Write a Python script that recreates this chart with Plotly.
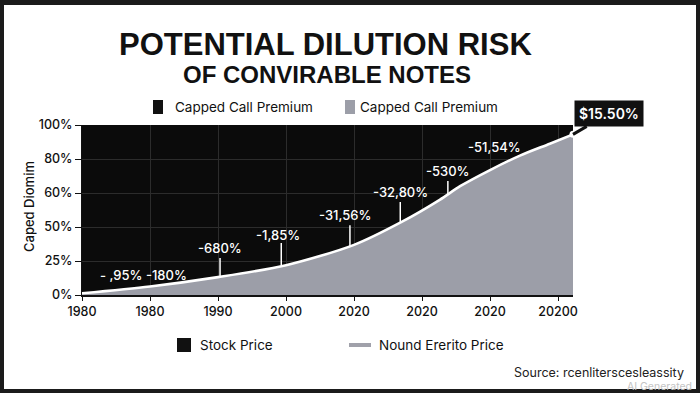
import plotly.graph_objects as go

# ---- data ----
x_pos = [0, 1, 2, 3, 4, 4.7, 5.26, 5.56, 6, 6.44, 6.88, 7.22]
dilution = [1, 5, 10.5, 17.5, 29.5, 43, 56, 64, 73.5, 82, 89, 94.5]

x_tickvals = [0, 1, 2, 3, 4, 5, 6, 7]
x_ticktext = ["1980", "1980", "1990", "2000", "2020", "2020", "2020", "20200"]
y_tickvals = [0, 20, 40, 60, 80, 100]
y_ticktext = ["0%", "25%", "50%", "60%", "80%", "100%"]

label_text = ["- ,95% -180%", "-680%", "-1,85%", "-31,56%", "-32,80%", "-530%", "-51,54%"]
label_x = [0.9, 2.03, 2.88, 3.87, 4.68, 5.38, 6.06]
label_y = [11.8, 27.6, 35.3, 47, 60.6, 73, 87]
stem_x = [None, 2.03, 2.93, 3.94, 4.68, 5.38, None]
stem_top = [None, 21.8, 30.6, 41, 54.7, 67, None]
stem_bottom = [None, 10.8, 17.5, 28.8, 43, 59, None]

end_label = "$15.50%"

# ---- layout geometry ----
W, H = 700, 393
L, R, T, B = 82, 127, 125, 98
PW, PH = W - L - R, H - T - B


def px(xp):
    return (xp - L) / PW


def py(yp):
    return (H - B - yp) / PH


fig = go.Figure()
fig.add_trace(go.Scatter(
    x=x_pos, y=dilution, mode="lines",
    line=dict(color="white", width=2.6, shape="spline", smoothing=0.8),
    fill="tozeroy", fillcolor="#9c9ea8", showlegend=False, hoverinfo="skip",
))
fig.add_trace(go.Scatter(
    x=[x_pos[-1]], y=[dilution[-1]], mode="markers",
    marker=dict(color="white", size=7), showlegend=False, hoverinfo="skip",
    cliponaxis=False,
))

shapes = []
annotations = []
lab_font = dict(family="Inter", size=13, color="white", weight=500)
for t, lx, ly, sx, st, sb in zip(label_text, label_x, label_y, stem_x, stem_top, stem_bottom):
    annotations.append(dict(x=lx, y=ly, xref="x", yref="y", text=t, showarrow=False,
                            xanchor="center", yanchor="middle", font=lab_font))
    if sx is not None:
        shapes.append(dict(type="line", xref="x", yref="y", x0=sx, x1=sx, y0=sb, y1=st,
                           line=dict(color="white", width=1.5)))

# end label box
annotations.append(dict(x=x_pos[-1], y=dilution[-1], xref="x", yref="y", text=end_label,
                        showarrow=True, arrowhead=0, arrowwidth=3, arrowcolor="#111",
                        ax=36, ay=-21, bgcolor="#111", borderpad=4,
                        font=dict(family="Inter", size=14, color="white", weight=600)))


def paper_text(x, y, text, font, xanchor="center", angle=0):
    annotations.append(dict(x=px(x), y=py(y), xref="paper", yref="paper", text=text,
                            showarrow=False, xanchor=xanchor, yanchor="middle",
                            textangle=angle, font=font))


# titles
paper_text(325, 45, "POTENTIAL DILUTION RISK",
           dict(family="Liberation Sans", size=31, color="#111", weight=700))
paper_text(327, 75, "OF CONVIRABLE NOTES",
           dict(family="Liberation Sans", size=24, color="#111", weight=700))

# top legend
leg_font = dict(family="Inter", size=13.5, color="#111")
shapes.append(dict(type="rect", xref="paper", yref="paper", x0=px(153), x1=px(163), y0=py(100), y1=py(114),
                   fillcolor="#111", line=dict(width=0)))
paper_text(173, 107, "Capped Call Premium", leg_font, "left")
shapes.append(dict(type="rect", xref="paper", yref="paper", x0=px(345), x1=px(355), y0=py(100), y1=py(114),
                   fillcolor="#9c9ea8", line=dict(width=0)))
paper_text(358, 107, "Capped Call Premium", leg_font, "left")

# bottom legend
shapes.append(dict(type="rect", xref="paper", yref="paper", x0=px(177), x1=px(191), y0=py(338), y1=py(352),
                   fillcolor="#111", line=dict(width=0)))
paper_text(198, 345, "Stock Price", leg_font, "left")
shapes.append(dict(type="line", xref="paper", yref="paper", x0=px(349), x1=px(371), y0=py(345), y1=py(345),
                   line=dict(color="#a0a1aa", width=4)))
paper_text(377, 345, "Nound Ererito Price", leg_font, "left")

# source and watermark
paper_text(686, 372, "Source: rcenliterscesleassity",
           dict(family="Inter", size=12.5, color="#222"), "right")
paper_text(694, 386, "AI Generated", dict(family="Inter", size=10.5, color="#c4c4c4"), "right")

# y axis title
paper_text(29, 207, "Caped Diomim", dict(family="Inter", size=13, color="#111", weight=500), angle=-90)

# dark frame
frame = "#1b1b1b"
for (a, b, c, d) in [(0, 700, 0, 5), (0, 700, 389, 393), (0, 4, 0, 393), (696, 700, 0, 393)]:
    shapes.append(dict(type="rect", xref="paper", yref="paper", x0=px(a), x1=px(b), y0=py(c), y1=py(d),
                       fillcolor=frame, line=dict(width=0), layer="above"))

tick_font = dict(family="Inter", size=12.5, color="#111", weight=500)
fig.update_layout(
    width=W, height=H, margin=dict(l=L, r=R, t=T, b=B, pad=0),
    paper_bgcolor="white", plot_bgcolor="#0b0b0b",
    showlegend=False,
    xaxis=dict(range=[0, 7.22], tickvals=x_tickvals, ticktext=x_ticktext, tickfont=tick_font,
               showgrid=True, gridcolor="#2c2c2c", gridwidth=1, zeroline=False,
               showline=True, linecolor="#111", linewidth=2, ticks="outside", ticklen=4,
               tickcolor="#111", fixedrange=True),
    yaxis=dict(range=[0, 100], tickvals=y_tickvals, ticktext=y_ticktext, tickfont=tick_font,
               showgrid=True, gridcolor="#2c2c2c", gridwidth=1, zeroline=False,
               showline=True, linecolor="#111", linewidth=1, ticks="outside", ticklen=6,
               tickcolor="#111", fixedrange=True),
    shapes=shapes, annotations=annotations,
)

fig.write_html("out.html", config={"displayModeBar": False},
               post_script="document.body.style.margin='0';document.body.style.overflow='hidden';")
